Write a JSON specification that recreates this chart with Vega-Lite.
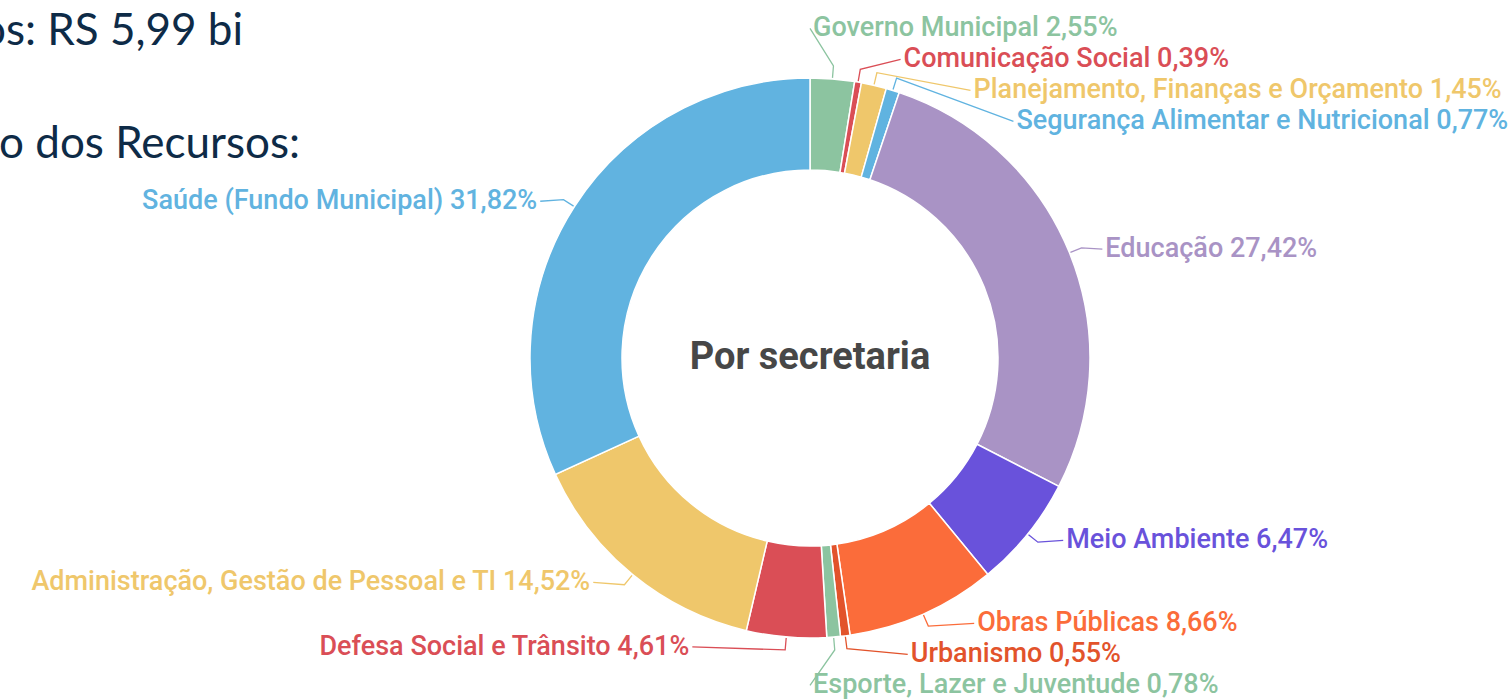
{
  "$schema": "https://vega.github.io/schema/vega-lite/v6.json",
  "width": 1511,
  "height": 699,
  "padding": 0,
  "autosize": {"type": "none"},
  "background": "#ffffff",
  "config": {"view": {"stroke": null}},
  "data": {
    "values": [
      {"secretaria": "Governo Municipal", "pct": 2.55},
      {"secretaria": "Comunicação Social", "pct": 0.39},
      {"secretaria": "Planejamento, Finanças e Orçamento", "pct": 1.45},
      {"secretaria": "Segurança Alimentar e Nutricional", "pct": 0.77},
      {"secretaria": "Educação", "pct": 27.42},
      {"secretaria": "Meio Ambiente", "pct": 6.47},
      {"secretaria": "Obras Públicas", "pct": 8.66},
      {"secretaria": "Urbanismo", "pct": 0.55},
      {"secretaria": "Esporte, Lazer e Juventude", "pct": 0.78},
      {"secretaria": "Defesa Social e Trânsito", "pct": 4.61},
      {"secretaria": "Administração, Gestão de Pessoal e TI", "pct": 14.52},
      {"secretaria": "Saúde (Fundo Municipal)", "pct": 31.82}
    ]
  },
  "layer": [
    {
      "transform": [
        {"window": [{"op": "sum", "field": "pct", "as": "c1"}], "frame": [null, 0]},
        {"joinaggregate": [{"op": "sum", "field": "pct", "as": "total"}]},
        {"calculate": "(datum.c1 - datum.pct) / datum.total", "as": "f0"},
        {"calculate": "datum.c1 / datum.total", "as": "f1"},
        {"calculate": "(datum.f0 + datum.f1) / 2", "as": "fm"},
        {"calculate": "2 * PI * datum.fm", "as": "ang"},
        {"calculate": "datum.fm < 0.5 ? 'R' : 'L'", "as": "side"},
        {"calculate": "290 * cos(datum.ang)", "as": "ynat"},
        {"window": [{"op": "row_number", "as": "rk"}], "groupby": ["side"], "sort": [{"field": "ynat", "order": "descending"}]},
        {"calculate": "datum.ynat + (datum.rk - 1) * 31", "as": "t"},
        {"window": [{"op": "min", "field": "t", "as": "tmin"}], "groupby": ["side"], "sort": [{"field": "ynat", "order": "descending"}], "frame": [null, 0]},
        {"window": [{"op": "max", "field": "t", "as": "tmax"}], "groupby": ["side"], "sort": [{"field": "ynat", "order": "descending"}], "frame": [0, null]},
        {"calculate": "datum.tmin - (datum.rk - 1) * 31", "as": "ytd"},
        {"calculate": "datum.tmax - (datum.rk - 1) * 31", "as": "ybu"},
        {"calculate": "datum.ynat > 0 ? (datum.ytd + datum.ybu) / 2 : datum.ytd", "as": "ylab"},
        {"calculate": "(datum.side == 'R' ? 1 : -1) * sqrt(max(0, 312 * 312 - datum.ylab * datum.ylab))", "as": "xlab"},
        {"calculate": "281 * sin(datum.ang)", "as": "ax0"},
        {"calculate": "281 * cos(datum.ang)", "as": "ay0"},
        {"calculate": "293 * sin(datum.ang)", "as": "ax1"},
        {"calculate": "293 * cos(datum.ang)", "as": "ay1"},
        {"calculate": "datum.secretaria + ' ' + replace(format(datum.pct, '.2f'), '.', ',') + '%'", "as": "label"}
      ],
      "layer": [
        {
          "mark": {"type": "arc", "outerRadius": 280, "innerRadius": 188, "stroke": "#ffffff", "strokeWidth": 1.5},
          "encoding": {
            "x": {"datum": 0, "type": "quantitative", "scale": {"domain": [-810, 701], "nice": false, "zero": false}, "axis": null},
            "y": {"datum": 0, "type": "quantitative", "scale": {"domain": [-341, 358], "nice": false, "zero": false}, "axis": null},
            "theta": {"field": "f0", "type": "quantitative", "scale": {"domain": [0, 1], "range": [0, 6.283185307179586]}},
            "theta2": {"field": "f1"},
            "color": {
              "field": "secretaria", "type": "nominal", "legend": null,
              "scale": {
                "domain": ["Governo Municipal", "Comunicação Social", "Planejamento, Finanças e Orçamento", "Segurança Alimentar e Nutricional", "Educação", "Meio Ambiente", "Obras Públicas", "Urbanismo", "Esporte, Lazer e Juventude", "Defesa Social e Trânsito", "Administração, Gestão de Pessoal e TI", "Saúde (Fundo Municipal)"],
                "range": ["#8cc4a0", "#da4e56", "#efc76b", "#60b3e0", "#a993c5", "#6952db", "#fb6c3a", "#e2532b", "#8cc4a0", "#da4e56", "#efc76b", "#61b3e0"]
              }
            }
          }
        },
        {
          "transform": [
            {"fold": ["ax0", "ax1", "xlab"], "as": ["pk", "lx"]},
            {"calculate": "datum.pk == 'ax0' ? datum.ay0 : (datum.pk == 'ax1' ? datum.ay1 : datum.ylab)", "as": "ly"},
            {"calculate": "datum.pk == 'ax0' ? 0 : (datum.pk == 'ax1' ? 1 : 2)", "as": "ord"}
          ],
          "mark": {"type": "line", "strokeWidth": 1.3},
          "encoding": {
            "x": {"field": "lx", "type": "quantitative", "scale": {"domain": [-810, 701], "nice": false, "zero": false}, "axis": null},
            "y": {"field": "ly", "type": "quantitative", "scale": {"domain": [-341, 358], "nice": false, "zero": false}, "axis": null},
            "detail": {"field": "secretaria", "type": "nominal"},
            "order": {"field": "ord", "type": "quantitative"},
            "color": {"field": "secretaria", "type": "nominal", "legend": null}
          }
        },
        {
          "transform": [{"filter": "datum.side == 'R'"}],
          "mark": {"type": "text", "align": "left", "baseline": "middle", "dx": 3, "font": "Roboto", "fontSize": 27, "fontWeight": 500},
          "encoding": {
            "x": {"field": "xlab", "type": "quantitative", "scale": {"domain": [-810, 701], "nice": false, "zero": false}, "axis": null},
            "y": {"field": "ylab", "type": "quantitative", "scale": {"domain": [-341, 358], "nice": false, "zero": false}, "axis": null},
            "text": {"field": "label", "type": "nominal"},
            "color": {"field": "secretaria", "type": "nominal", "legend": null}
          }
        },
        {
          "transform": [{"filter": "datum.side == 'L'"}],
          "mark": {"type": "text", "align": "right", "baseline": "middle", "dx": -3, "font": "Roboto", "fontSize": 27, "fontWeight": 500},
          "encoding": {
            "x": {"field": "xlab", "type": "quantitative", "scale": {"domain": [-810, 701], "nice": false, "zero": false}, "axis": null},
            "y": {"field": "ylab", "type": "quantitative", "scale": {"domain": [-341, 358], "nice": false, "zero": false}, "axis": null},
            "text": {"field": "label", "type": "nominal"},
            "color": {"field": "secretaria", "type": "nominal", "legend": null}
          }
        }
      ]
    },
    {
      "data": {"values": [{"texto": "Por secretaria"}]},
      "mark": {"type": "text", "align": "center", "baseline": "middle", "font": "Roboto", "fontSize": 38, "fontWeight": "bold", "color": "#474747"},
      "encoding": {
        "x": {"datum": 0, "type": "quantitative", "scale": {"domain": [-810, 701], "nice": false, "zero": false}, "axis": null},
        "y": {"datum": 0, "type": "quantitative", "scale": {"domain": [-341, 358], "nice": false, "zero": false}, "axis": null},
        "text": {"field": "texto", "type": "nominal"}
      }
    },
    {
      "data": {"values": [{"texto": "os: RS 5,99 bi", "px": -567, "py": 326}, {"texto": "o dos Recursos:", "px": -510, "py": 213}]},
      "mark": {"type": "text", "align": "right", "baseline": "middle", "font": "Lato", "fontSize": 44, "color": "#0e2b47"},
      "encoding": {
        "x": {"field": "px", "type": "quantitative", "scale": {"domain": [-810, 701], "nice": false, "zero": false}, "axis": null},
        "y": {"field": "py", "type": "quantitative", "scale": {"domain": [-341, 358], "nice": false, "zero": false}, "axis": null},
        "text": {"field": "texto", "type": "nominal"}
      }
    }
  ]
}
